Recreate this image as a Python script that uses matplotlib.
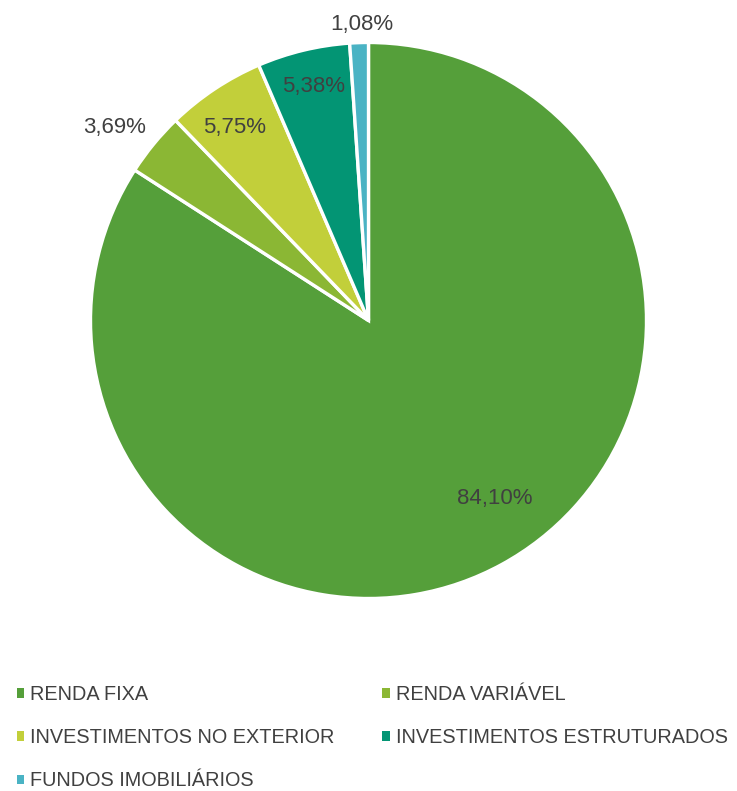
import numpy as np
import matplotlib.pyplot as plt
from matplotlib.patches import Patch

# Dados
categorias = ['RENDA FIXA', 'RENDA VARIÁVEL', 'INVESTIMENTOS NO EXTERIOR',
              'INVESTIMENTOS ESTRUTURADOS', 'FUNDOS IMOBILIÁRIOS']
valores = [84.10, 3.69, 5.75, 5.38, 1.08]
rotulos = ['84,10%', '3,69%', '5,75%', '5,38%', '1,08%']
cores = ['#559F3A', '#8BB734', '#C2CF3A', '#039574', '#4AB3C4']

plt.rcParams['font.family'] = ['Liberation Sans', 'DejaVu Sans']
cor_texto = '#404040'

fig = plt.figure(figsize=(7.37, 7.91), dpi=100)
ax = fig.add_axes([(368.5 - 278) / 737, (791 - 598.5) / 791, 556 / 737, 556 / 791])

wedges, _ = ax.pie(valores, colors=cores, startangle=90, counterclock=False,
                   radius=1, wedgeprops=dict(edgecolor='white', linewidth=2.4))
ax.set_xlim(-1, 1)
ax.set_ylim(-1, 1)
ax.set_aspect('auto')
ax.axis('off')

# posição dos rótulos (distância relativa ao raio, ajuste de ângulo)
dist = [0.78, 1.15, 0.85, 0.87, 1.07]
ajuste = [7, 2, 1, -0.5, -0.7]
for w, txt, d, a in zip(wedges, rotulos, dist, ajuste):
    ang = np.deg2rad((w.theta1 + w.theta2) / 2 + a)
    ax.text(d * np.cos(ang), d * np.sin(ang) - 0.005, txt, ha='center', va='center',
            fontsize=16, color=cor_texto)

# legenda preenchida por linha (matplotlib preenche por coluna)
ordem = [0, 2, 4, 1, 3]
handles = [Patch(facecolor=cores[i], edgecolor='none') for i in ordem]
labels = [categorias[i] for i in ordem]
leg = fig.legend(handles, labels, loc='upper left', bbox_to_anchor=(17 / 737, (791 - 685) / 791),
                 ncol=2, frameon=False, fontsize=14.3, labelcolor=cor_texto,
                 borderpad=0, borderaxespad=0,
                 handlelength=0.37, handleheight=0.37, handletextpad=0.3,
                 columnspacing=2.4, labelspacing=1.22)

fig.savefig('out.png', dpi=100, facecolor='white')
